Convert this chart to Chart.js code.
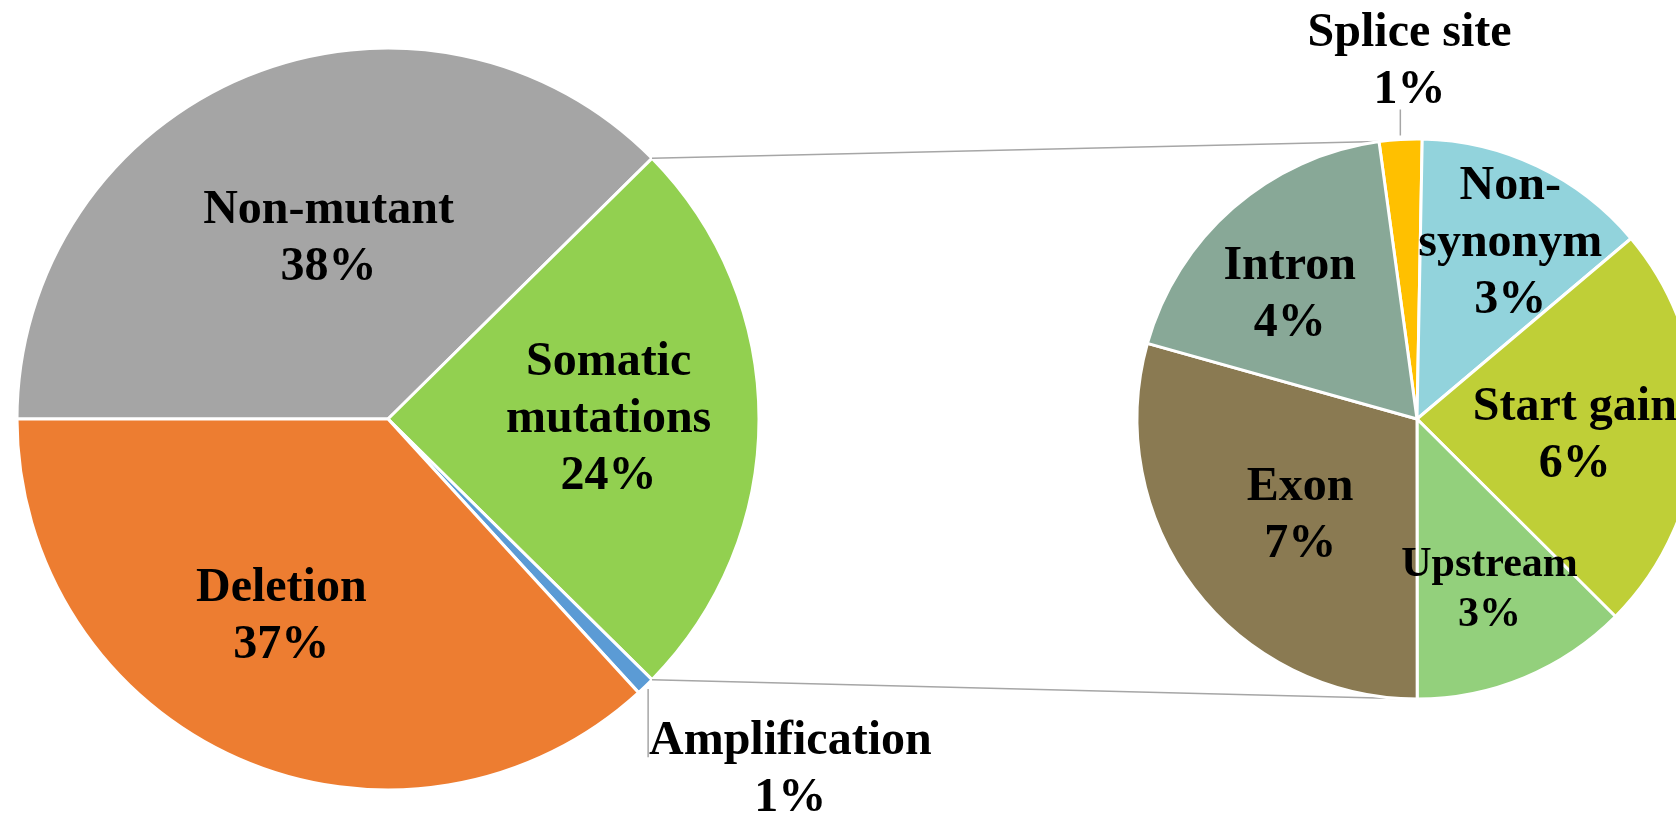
<!DOCTYPE html>
<html>
<head>
<meta charset="utf-8">
<script src="https://cdn.jsdelivr.net/npm/chart.js@4.4.1/dist/chart.umd.min.js"></script>
<style>
  html, body { margin: 0; padding: 0; background: #fff; overflow: hidden; }
  #wrap { position: relative; width: 1676px; height: 814px; overflow: hidden; }
  #wrap canvas { position: absolute; left: 0; top: 0; }
</style>
</head>
<body>
<div id="wrap">
  <canvas id="mainPie" width="1676" height="814"></canvas>
  <canvas id="subPie" width="1676" height="814"></canvas>
</div>
<script>
// main pie
const mainLabels = [["Non-mutant"], ["Somatic", "mutations"], ["Amplification"], ["Deletion"]];
const mainValues = [37.6, 24.8, 0.8, 36.8];
const mainPct = ["38%", "24%", "1%", "37%"];

// breakdown of somatic mutations
const subLabels = [["Splice site"], ["Non-", "synonym"], ["Start gain"], ["Upstream"], ["Exon"], ["Intron"]];
const subValues = [0.6, 3.3, 5.75, 3.05, 7.15, 4.5];
const subPct = ["1%", "3%", "6%", "3%", "7%", "4%"];

const mainColors = ["#a5a5a5", "#92d050", "#5b9bd5", "#ed7d31"];
const subColors = ["#ffc000", "#92d3dc", "#bfcf37", "#93d07c", "#8a7a52", "#88a897"];

// where each label sits: fraction of radius along the slice middle, then a nudge
const mainPlace = [
  { f: 0.5, dx: 11, dy: -12 },
  { f: 0.6, dx: -2, dy: -3 },
  { f: 1.0, dx: 145, dy: 80, leader: -13 },
  { f: 0.6, dx: -17, dy: -10 },
];
const subPlace = [
  { f: 1.0, dx: 9, dy: -81, leader: 47 },
  { f: 0.7, dx: 9, dy: -2 },
  { f: 0.6, dx: -10, dy: 6 },
  { f: 0.6, dx: 8, dy: 12, size: 42, lh: 50 },
  { f: 0.6, dx: 17, dy: -8 },
  { f: 0.6, dx: -17, dy: -1 },
];

const FONT = '"Liberation Serif", "Times New Roman", serif';

const sliceLabels = {
  id: "sliceLabels",
  afterDatasetsDraw(chart, args, opts) {
    const ctx = chart.ctx;
    const arcs = chart.getDatasetMeta(0).data;
    ctx.save();
    ctx.textAlign = "center";
    ctx.textBaseline = "middle";
    arcs.forEach((arc, i) => {
      const p = opts.place[i];
      const mid = (arc.startAngle + arc.endAngle) / 2;
      const r = arc.outerRadius * p.f;
      const cx = arc.x + Math.cos(mid) * r + p.dx;
      const cy = arc.y + Math.sin(mid) * r + p.dy + 4;
      const lines = opts.labels[i].concat(opts.pct[i]);
      const size = p.size || 48;
      const lh = p.lh || 57;

      if (p.leader !== undefined) {
        const sx = arc.x + Math.cos(mid) * (arc.outerRadius + 4);
        const sy = arc.y + Math.sin(mid) * (arc.outerRadius + 4);
        ctx.strokeStyle = "#a6a6a6";
        ctx.lineWidth = 1.5;
        ctx.beginPath();
        ctx.moveTo(sx, sy);
        ctx.lineTo(sx, cy + p.leader);
        ctx.stroke();
      }

      ctx.fillStyle = "#000";
      ctx.font = `bold ${size}px ${FONT}`;
      const y0 = cy - (lines.length - 1) * lh / 2;
      lines.forEach((t, k) => ctx.fillText(t, cx, y0 + k * lh));
    });
    ctx.restore();
  },
};

const mainChart = new Chart(document.getElementById("mainPie"), {
  type: "pie",
  data: {
    labels: mainLabels.map(l => l.join(" ")),
    datasets: [{
      data: mainValues,
      backgroundColor: mainColors,
      borderColor: "#fff",
      borderWidth: 3,
      clip: false,
    }],
  },
  options: {
    responsive: false,
    animation: false,
    events: [],
    radius: 371,
    rotation: 270,
    layout: { padding: { left: 0, right: 900, top: 24, bottom: 0 } },
    plugins: {
      legend: { display: false },
      tooltip: { enabled: false },
      sliceLabels: { labels: mainLabels, pct: mainPct, place: mainPlace },
    },
  },
  plugins: [sliceLabels],
});

// lines joining the somatic slice to the second pie
const connectors = {
  id: "connectors",
  beforeDatasetsDraw(chart) {
    const big = mainChart.getDatasetMeta(0).data[1];
    const small = chart.getDatasetMeta(0).data;
    const pt = (arc, a) => [arc.x + Math.cos(a) * arc.outerRadius, arc.y + Math.sin(a) * arc.outerRadius];
    const a1 = pt(big, big.startAngle);
    const a2 = pt(big, big.endAngle);
    const b1 = pt(small[0], small[0].startAngle);
    const b2 = pt(small[3], small[3].endAngle);
    const ctx = chart.ctx;
    ctx.save();
    ctx.strokeStyle = "#a6a6a6";
    ctx.lineWidth = 1.5;
    ctx.beginPath();
    ctx.moveTo(a1[0], a1[1]);
    ctx.lineTo(b1[0], b1[1]);
    ctx.moveTo(a2[0], a2[1]);
    ctx.lineTo(b2[0], b2[1]);
    ctx.stroke();
    ctx.restore();
  },
};

const subChart = new Chart(document.getElementById("subPie"), {
  type: "pie",
  data: {
    labels: subLabels.map(l => l.join(" ")),
    datasets: [{
      data: subValues,
      backgroundColor: subColors,
      borderColor: "#fff",
      borderWidth: 3,
      clip: false,
    }],
  },
  options: {
    responsive: false,
    animation: false,
    events: [],
    radius: 280,
    rotation: -7.8,
    layout: { padding: { left: 1158, right: 0, top: 24, bottom: 0 } },
    plugins: {
      legend: { display: false },
      tooltip: { enabled: false },
      sliceLabels: { labels: subLabels, pct: subPct, place: subPlace },
    },
  },
  plugins: [connectors, sliceLabels],
});
</script>
</body>
</html>
